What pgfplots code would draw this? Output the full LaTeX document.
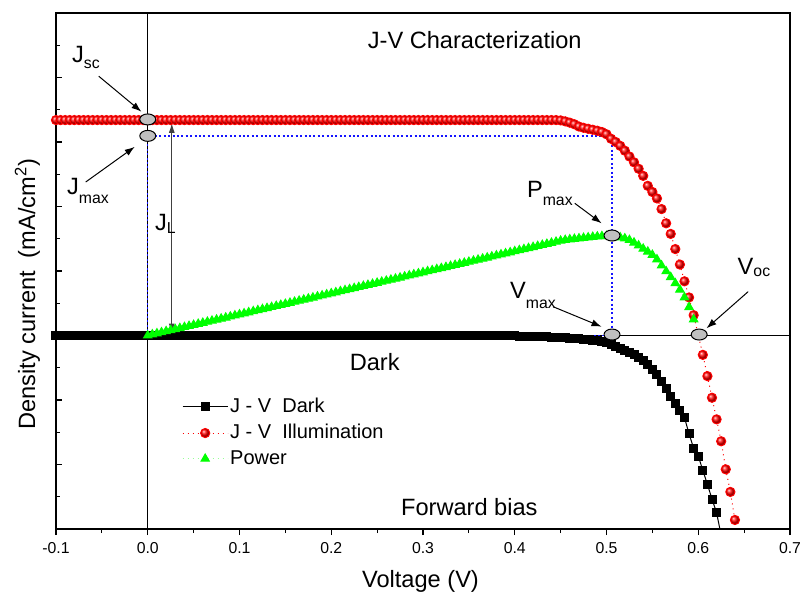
\documentclass[border=0pt]{standalone}
\usepackage{pgfplots}
\pgfplotsset{compat=1.18}
\usepackage{fontspec}
\setmainfont{Liberation Sans}
\usetikzlibrary{arrows.meta}
\definecolor{ovalgray}{RGB}{192,192,192}
\definecolor{lgreen}{RGB}{150,255,150}
\definecolor{guideblue}{RGB}{20,20,255}
\newcommand{\fs}{\fontsize{11.8}{14}\selectfont}
\newcommand{\sub}[2]{\raisebox{#1}{\fontsize{7.9}{9}\selectfont #2}}
\begin{document}
\begin{tikzpicture}
\begin{axis}[
  name=ax,
  scale only axis, width=367pt, height=258pt,
  xmin=-0.1, xmax=0.7, ymin=-6, ymax=10,
  xtick={-0.1,0,0.1,0.2,0.3,0.4,0.5,0.6,0.7},
  minor x tick num=1,
  ytick={-6,-4,-2,0,2,4,6,8,10}, minor y tick num=1,
  yticklabels={},
  xtick pos=bottom, ytick pos=left,
  xtick align=outside, ytick align=inside,
  major tick length=3pt, minor tick length=2pt,
  every tick/.style={black, line width=0.6pt},
  axis line style={line width=0.75pt},
  xticklabel style={font=\fontsize{7.9}{9}\selectfont, /pgf/number format/.cd, fixed, fixed zerofill, precision=1, assume math mode=true},
  xlabel={Voltage (V)},
  ylabel={Density current\hspace{0.55em}(mA/cm\textsuperscript{2})},
  every axis x label/.style={at={(axis description cs:0.4966,-0.1124)}, anchor=base, font=\fs},
  every axis y label/.style={at={(axis description cs:-0.0286,0.455)}, rotate=90, anchor=base, font=\fs},
  legend image code/.code={\draw[mark repeat=2,mark phase=2,#1] plot coordinates {(0pt,0pt) (11.25pt,0pt) (22.5pt,0pt)};},
  legend style={draw=none, fill=none, inner sep=0pt, at={(axis cs:0.0371,-1.87)}, anchor=north west,
    font=\fontsize{10}{12}\selectfont, row sep=2.3pt, nodes={inner sep=1pt}},
  legend cell align=left,
]
\draw[line width=0.5pt] (axis cs:-0.1,0) -- (axis cs:0.7,0);
\draw[line width=0.6pt] (axis cs:0,-6) -- (axis cs:0,10);

% Dark J-V
\addplot[black, line width=0.5pt, mark=square*, mark size=2pt, mark options={solid}] table[row sep=\\]{
x y\\
-0.100 0\\ -0.095 0\\ -0.090 0\\ -0.085 0\\ -0.080 0\\ -0.075 0\\ -0.070 0\\ -0.065 0\\ -0.060 0\\ -0.055 0\\
-0.050 0\\ -0.045 0\\ -0.040 0\\ -0.035 0\\ -0.030 0\\ -0.025 0\\ -0.020 0\\ -0.015 0\\ -0.010 0\\ -0.005 0\\
0.000 0\\ 0.005 0\\ 0.010 0\\ 0.015 0\\ 0.020 0\\ 0.025 0\\ 0.030 0\\ 0.035 0\\ 0.040 0\\ 0.045 0\\
0.050 0\\ 0.055 0\\ 0.060 0\\ 0.065 0\\ 0.070 0\\ 0.075 0\\ 0.080 0\\ 0.085 0\\ 0.090 0\\ 0.095 0\\
0.100 0\\ 0.105 0\\ 0.110 0\\ 0.115 0\\ 0.120 0\\ 0.125 0\\ 0.130 0\\ 0.135 0\\ 0.140 0\\ 0.145 0\\
0.150 0\\ 0.155 0\\ 0.160 0\\ 0.165 0\\ 0.170 0\\ 0.175 0\\ 0.180 0\\ 0.185 0\\ 0.190 0\\ 0.195 0\\
0.200 0\\ 0.205 0\\ 0.210 0\\ 0.215 0\\ 0.220 0\\ 0.225 0\\ 0.230 0\\ 0.235 0\\ 0.240 0\\ 0.245 0\\
0.250 0\\ 0.255 0\\ 0.260 0\\ 0.265 0\\ 0.270 0\\ 0.275 0\\ 0.280 0\\ 0.285 0\\ 0.290 0\\ 0.295 0\\
0.300 0\\ 0.305 0\\ 0.310 0\\ 0.315 0\\ 0.320 0\\ 0.325 0\\ 0.330 0\\ 0.335 0\\ 0.340 0\\ 0.345 0\\
0.350 0\\ 0.355 0\\ 0.360 0\\ 0.365 0\\ 0.370 0\\ 0.375 0\\ 0.380 0\\ 0.385 -0.005\\ 0.390 -0.01\\ 0.395 -0.01\\
0.400 -0.015\\ 0.405 -0.02\\ 0.410 -0.02\\ 0.415 -0.025\\ 0.420 -0.03\\ 0.425 -0.035\\ 0.430 -0.04\\ 0.435 -0.045\\ 0.440 -0.05\\ 0.445 -0.06\\
0.450 -0.065\\ 0.455 -0.07\\ 0.460 -0.08\\ 0.465 -0.09\\ 0.470 -0.10\\ 0.475 -0.11\\ 0.480 -0.12\\ 0.485 -0.14\\ 0.490 -0.16\\ 0.495 -0.19\\
0.500 -0.23\\ 0.505 -0.29\\ 0.510 -0.34\\ 0.515 -0.40\\ 0.520 -0.46\\ 0.525 -0.52\\ 0.530 -0.59\\ 0.535 -0.67\\ 0.540 -0.76\\ 0.545 -0.89\\
0.550 -1.04\\ 0.555 -1.21\\ 0.560 -1.42\\ 0.565 -1.65\\ 0.570 -1.90\\ 0.575 -2.10\\ 0.580 -2.32\\ 0.585 -2.55\\ 0.590 -3.05\\ 0.595 -3.50\\
0.600 -3.74\\ 0.605 -4.18\\ 0.610 -4.62\\ 0.615 -5.07\\ 0.620 -5.50\\ 0.625 -6.20\\
};
\addlegendentry{J - V\hspace{0.556em}Dark}

% Illumination J-V
\addplot[red, dotted, line width=0.5pt, mark=ball, mark size=2.3pt, mark options={solid, ball color=red}] table[row sep=\\]{
x y\\
-0.100 6.68\\ -0.095 6.68\\ -0.090 6.68\\ -0.085 6.68\\ -0.080 6.68\\ -0.075 6.68\\ -0.070 6.68\\ -0.065 6.68\\ -0.060 6.68\\ -0.055 6.68\\
-0.050 6.68\\ -0.045 6.68\\ -0.040 6.68\\ -0.035 6.68\\ -0.030 6.68\\ -0.025 6.68\\ -0.020 6.68\\ -0.015 6.68\\ -0.010 6.68\\ -0.005 6.68\\
0.000 6.68\\ 0.005 6.68\\ 0.010 6.68\\ 0.015 6.68\\ 0.020 6.68\\ 0.025 6.68\\ 0.030 6.68\\ 0.035 6.68\\ 0.040 6.68\\ 0.045 6.68\\
0.050 6.68\\ 0.055 6.68\\ 0.060 6.68\\ 0.065 6.68\\ 0.070 6.68\\ 0.075 6.68\\ 0.080 6.68\\ 0.085 6.68\\ 0.090 6.68\\ 0.095 6.68\\
0.100 6.68\\ 0.105 6.68\\ 0.110 6.68\\ 0.115 6.68\\ 0.120 6.68\\ 0.125 6.68\\ 0.130 6.68\\ 0.135 6.68\\ 0.140 6.68\\ 0.145 6.68\\
0.150 6.68\\ 0.155 6.68\\ 0.160 6.68\\ 0.165 6.68\\ 0.170 6.68\\ 0.175 6.68\\ 0.180 6.68\\ 0.185 6.68\\ 0.190 6.68\\ 0.195 6.68\\
0.200 6.68\\ 0.205 6.68\\ 0.210 6.68\\ 0.215 6.68\\ 0.220 6.68\\ 0.225 6.68\\ 0.230 6.68\\ 0.235 6.68\\ 0.240 6.68\\ 0.245 6.68\\
0.250 6.68\\ 0.255 6.68\\ 0.260 6.68\\ 0.265 6.68\\ 0.270 6.68\\ 0.275 6.68\\ 0.280 6.68\\ 0.285 6.68\\ 0.290 6.68\\ 0.295 6.68\\
0.300 6.68\\ 0.305 6.68\\ 0.310 6.68\\ 0.315 6.68\\ 0.320 6.68\\ 0.325 6.68\\ 0.330 6.68\\ 0.335 6.68\\ 0.340 6.68\\ 0.345 6.68\\
0.350 6.68\\ 0.355 6.68\\ 0.360 6.68\\ 0.365 6.68\\ 0.370 6.68\\ 0.375 6.68\\ 0.380 6.68\\ 0.385 6.68\\ 0.390 6.68\\ 0.395 6.68\\
0.400 6.68\\ 0.405 6.68\\ 0.410 6.68\\ 0.415 6.68\\ 0.420 6.68\\ 0.425 6.68\\ 0.430 6.68\\ 0.435 6.68\\ 0.440 6.68\\ 0.445 6.68\\
0.450 6.67\\ 0.455 6.64\\ 0.460 6.60\\ 0.465 6.55\\ 0.470 6.48\\ 0.475 6.44\\ 0.480 6.41\\ 0.485 6.38\\ 0.490 6.35\\ 0.495 6.31\\
0.500 6.24\\ 0.505 6.10\\ 0.510 6.00\\ 0.515 5.88\\ 0.520 5.73\\ 0.525 5.55\\ 0.530 5.37\\ 0.535 5.17\\ 0.540 4.95\\ 0.545 4.64\\
0.550 4.45\\ 0.555 4.25\\ 0.560 3.92\\ 0.565 3.48\\ 0.570 3.15\\ 0.575 2.68\\ 0.580 2.20\\ 0.585 1.68\\ 0.590 1.18\\ 0.595 0.63\\
0.600 0.02\\ 0.605 -0.60\\ 0.610 -1.26\\ 0.615 -1.93\\ 0.620 -2.60\\ 0.625 -3.28\\ 0.630 -4.15\\ 0.635 -4.85\\ 0.640 -5.72\\
};
\addlegendentry{J - V\hspace{0.556em}Illumination}

% Power
\addplot[lgreen, dotted, line width=0.5pt, mark=triangle*, mark size=2.4pt, mark options={solid, draw=green, fill=green}] table[row sep=\\]{
x y\\
0.000 0.000\\ 0.005 0.033\\ 0.010 0.065\\ 0.015 0.098\\ 0.020 0.131\\ 0.025 0.163\\ 0.030 0.196\\ 0.035 0.228\\ 0.040 0.261\\ 0.045 0.294\\
0.050 0.326\\ 0.055 0.359\\ 0.060 0.392\\ 0.065 0.424\\ 0.070 0.457\\ 0.075 0.490\\ 0.080 0.522\\ 0.085 0.555\\ 0.090 0.587\\ 0.095 0.620\\
0.100 0.653\\ 0.105 0.685\\ 0.110 0.718\\ 0.115 0.751\\ 0.120 0.783\\ 0.125 0.816\\ 0.130 0.849\\ 0.135 0.881\\ 0.140 0.914\\ 0.145 0.946\\
0.150 0.979\\ 0.155 1.012\\ 0.160 1.044\\ 0.165 1.077\\ 0.170 1.110\\ 0.175 1.142\\ 0.180 1.175\\ 0.185 1.207\\ 0.190 1.240\\ 0.195 1.273\\
0.200 1.305\\ 0.205 1.338\\ 0.210 1.371\\ 0.215 1.403\\ 0.220 1.436\\ 0.225 1.469\\ 0.230 1.501\\ 0.235 1.534\\ 0.240 1.566\\ 0.245 1.599\\
0.250 1.632\\ 0.255 1.664\\ 0.260 1.697\\ 0.265 1.730\\ 0.270 1.762\\ 0.275 1.795\\ 0.280 1.828\\ 0.285 1.860\\ 0.290 1.893\\ 0.295 1.925\\
0.300 1.958\\ 0.305 1.991\\ 0.310 2.023\\ 0.315 2.056\\ 0.320 2.089\\ 0.325 2.121\\ 0.330 2.154\\ 0.335 2.187\\ 0.340 2.219\\ 0.345 2.252\\
0.350 2.284\\ 0.355 2.317\\ 0.360 2.350\\ 0.365 2.382\\ 0.370 2.415\\ 0.375 2.448\\ 0.380 2.480\\ 0.385 2.513\\ 0.390 2.546\\ 0.395 2.578\\
0.400 2.611\\ 0.405 2.643\\ 0.410 2.676\\ 0.415 2.709\\ 0.420 2.741\\ 0.425 2.774\\ 0.430 2.807\\ 0.435 2.839\\ 0.440 2.872\\ 0.445 2.905\\
0.450 2.937\\ 0.455 2.961\\ 0.460 2.980\\ 0.465 2.995\\ 0.470 3.010\\ 0.475 3.025\\ 0.480 3.040\\ 0.485 3.055\\ 0.490 3.068\\ 0.495 3.078\\
0.500 3.082\\ 0.505 3.075\\ 0.510 3.060\\ 0.515 3.040\\ 0.520 3.010\\ 0.525 2.960\\ 0.530 2.880\\ 0.535 2.790\\ 0.540 2.690\\ 0.545 2.600\\
0.550 2.500\\ 0.555 2.360\\ 0.560 2.170\\ 0.565 1.990\\ 0.570 1.810\\ 0.575 1.620\\ 0.580 1.420\\ 0.585 1.180\\ 0.590 0.880\\ 0.595 0.500\\
};
\addlegendentry{Power}

% guide rectangle (Vmax, Jmax)
\draw[guideblue, line width=0.7pt, dash pattern=on 1pt off 1.2pt] (axis cs:0,0) rectangle (axis cs:0.506,6.19);

% ovals at the characteristic points
\addplot[forget plot, only marks, mark=*, mark size=2.75pt, mark options={fill=ovalgray, draw=black, line width=0.5pt, xscale=1.45}] coordinates {(0,6.70) (0,6.19) (0.506,3.10) (0.506,0.03) (0.601,0.03)};

% arrows
\draw[-{Latex[length=5pt,width=3.5pt]}, line width=0.5pt] (axis cs:-0.0534,8.04) -- (axis cs:-0.0069,6.94);
\draw[-{Latex[length=5pt,width=3.5pt]}, line width=0.5pt] (axis cs:-0.0676,4.76) -- (axis cs:-0.0142,5.85);
\draw[{Latex[length=5pt,width=3pt]}-{Latex[length=5pt,width=3pt]}, black!75, line width=0.5pt] (axis cs:0.0262,6.59) -- (axis cs:0.0262,0.06);
\draw[-{Latex[length=5pt,width=3.5pt]}, line width=0.5pt] (axis cs:0.4654,4.10) -- (axis cs:0.4946,3.48);
\draw[-{Latex[length=5pt,width=3.5pt]}, line width=0.5pt] (axis cs:0.4418,0.893) -- (axis cs:0.4946,0.273);
\draw[-{Latex[length=5pt,width=3.5pt]}, line width=0.5pt] (axis cs:0.6544,1.36) -- (axis cs:0.609,0.223);

% labels
\node[anchor=base west, inner sep=0pt, font=\fs] at (axis cs:-0.0828,8.48) {J\sub{-3.3pt}{sc}};
\node[anchor=base west, inner sep=0pt, font=\fs] at (axis cs:-0.0883,4.36) {J\sub{-4.2pt}{max}};
\node[anchor=base west, inner sep=0pt, font=\fs] at (axis cs:0.0076,3.27) {J\sub{-1.7pt}{L}};
\node[anchor=base west, inner sep=0pt, font=\fs] at (axis cs:0.413,4.29) {P\sub{-4.2pt}{max}};
\node[anchor=base west, inner sep=0pt, font=\fs] at (axis cs:0.3946,1.16) {V\sub{-5pt}{max}};
\node[anchor=base west, inner sep=0pt, font=\fs] at (axis cs:0.6426,1.88) {V\sub{-1pt}{oc}};
\node[anchor=base, inner sep=0pt, font=\fs] at (axis cs:0.3564,8.91) {J-V Characterization};
\node[anchor=base, inner sep=0pt, font=\fs] at (axis cs:0.2474,-1.07) {Dark};
\node[anchor=base, inner sep=0pt, font=\fs] at (axis cs:0.3505,-5.57) {Forward bias};
\end{axis}
\pgfresetboundingbox
\path[use as bounding box] ([xshift=-28pt,yshift=-33pt]ax.south west) rectangle ([xshift=7.5pt,yshift=6.5pt]ax.north east);
\end{tikzpicture}
\end{document}
